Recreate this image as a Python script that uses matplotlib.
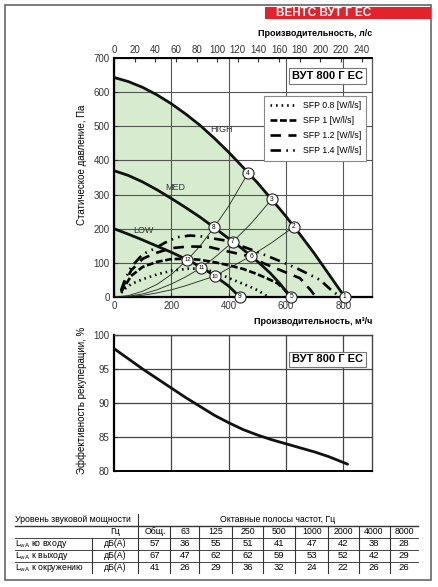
import matplotlib
matplotlib.use('Agg')
import matplotlib.pyplot as plt
from matplotlib.patches import Rectangle

plt.rcParams['font.family'] = ['Liberation Sans', 'DejaVu Sans']
plt.rcParams['mathtext.fontset'] = 'custom'
plt.rcParams['mathtext.rm'] = 'Liberation Sans'

W, H = 439, 587

# fan curves, m3/h -> Pa
high_q = [0, 50, 100, 150, 200, 250, 300, 350, 400, 450, 500, 550, 600, 650, 700, 750, 805]
high_p = [643, 631, 614, 592, 566, 536, 503, 465, 424, 380, 335, 286, 236, 182, 126, 66, 0]
med_q = [0, 50, 100, 150, 203, 250, 300, 349, 380, 415, 448, 478, 510, 545, 580, 615]
med_p = [370, 356, 337, 314, 287, 262, 234, 204, 184, 162, 141, 120, 97, 70, 38, 0]
low_q = [0, 50, 100, 150, 200, 256, 305, 351, 400, 439]
low_p = [200, 184, 167, 149, 131, 109, 87, 62, 32, 0]

# system curves through the numbered points
sys_a_q = [0, 50, 100, 150, 200, 256, 300, 349, 400, 467]
sys_a_p = [0, 4, 17, 37, 66, 109, 149, 204, 266, 362]
sys_b_q = [0, 50, 100, 150, 200, 250, 305, 350, 415, 480, 550]
sys_b_p = [0, 2, 9, 21, 38, 59, 86, 115, 162, 217, 286]
sys_c_q = [0, 50, 100, 150, 200, 250, 300, 351, 400, 478, 550, 628]
sys_c_p = [0, 1, 5, 12, 21, 33, 47, 61, 84, 120, 159, 206]

# SFP curves
sfp08_q = [25, 40, 60, 100, 150, 200, 260, 300, 350, 405, 440, 475, 500, 535]
sfp08_p = [12, 25, 38, 52, 66, 77, 83, 83, 74, 54, 42, 30, 20, 3]
sfp10_q = [25, 40, 60, 100, 150, 200, 250, 300, 356, 400, 451, 490, 533, 570, 591, 615]
sfp10_p = [15, 35, 62, 88, 103, 111, 112, 109, 101, 93, 82, 70, 55, 40, 25, 5]
sfp12_q = [25, 40, 60, 100, 143, 200, 260, 330, 405, 478, 521, 579, 649, 684, 700]
sfp12_p = [18, 45, 78, 112, 128, 143, 148, 147, 132, 118, 99, 79, 55, 22, 5]
sfp14_q = [25, 40, 60, 100, 137, 180, 219, 265, 300, 391, 475, 556, 638, 719, 754, 785]
sfp14_p = [20, 55, 88, 125, 140, 160, 175, 180, 178, 165, 140, 113, 84, 50, 23, 3]

pt_num = [1, 2, 3, 4, 5, 6, 7, 8, 9, 10, 11, 12]
pt_q = [805, 628, 550, 467, 618, 478, 415, 349, 439, 351, 305, 256]
pt_p = [0, 206, 286, 362, 0, 120, 162, 204, 0, 61, 86, 109]

# recuperation efficiency
eff_q = [0, 50, 100, 150, 200, 250, 300, 350, 400, 450, 500, 550, 600, 650, 700, 750, 815]
eff_v = [98.0, 96.5, 95.0, 93.6, 92.2, 90.8, 89.5, 88.2, 87.1, 86.1, 85.3, 84.6, 84.0, 83.4, 82.8, 82.1, 81.0]

# sound table
bands = ['Общ.', '63', '125', '250', '500', '1000', '2000', '4000', '8000']
row_names = ['ко входу', 'к выходу', 'к окружению']
lwa_in = [57, 36, 55, 51, 41, 47, 42, 38, 28]
lwa_out = [67, 47, 62, 62, 59, 53, 52, 42, 29]
lwa_env = [41, 26, 29, 36, 32, 24, 22, 26, 26]


def box(l, t, r, b):
    return [l / W, 1 - b / H, (r - l) / W, (b - t) / H]


fig = plt.figure(figsize=(W / 100, H / 100), dpi=100)

# overlay for frame, header and table
ov = fig.add_axes([0, 0, 1, 1], zorder=-5)
ov.set_xlim(0, W)
ov.set_ylim(H, 0)
ov.axis('off')
ov.add_patch(Rectangle((5, 5), 426, 575, fill=False, ec='#666666', lw=1.2))
ov.add_patch(Rectangle((265, 7), 166, 11.5, fc='#e3222b', ec='none'))
ov.text(276, 13, 'ВЕНТС ВУТ Г ЕС', color='white', fontsize=8.5, fontweight='bold',
        ha='left', va='center')
ov.text(372, 33, 'Производительность, л/с', fontsize=6.5, fontweight='bold', ha='right', va='center')
ov.text(372, 321, 'Производительность, м³/ч', fontsize=6.5, fontweight='bold', ha='right', va='center')
ov.text(82, 165, 'Статическое давление, Па', fontsize=7, rotation=90, ha='center', va='center')
ov.text(82, 400, 'Эффективность рекуперации, %', fontsize=7, rotation=90, ha='center', va='center')

# table
col_x = [155, 185, 216, 248, 279, 312, 343, 374, 404]
seps = [138, 170, 199, 232, 263, 295, 328, 359, 390]
row_y = [544, 556, 568]
ov.text(15, 520, 'Уровень звуковой мощности', fontsize=6.3, va='center')
ov.text(278, 520, 'Октавные полосы частот, Гц', fontsize=6.3, ha='center', va='center')
ov.text(120, 532, 'Гц', fontsize=6.3, ha='right', va='center')
for x, b in zip(col_x, bands):
    ov.text(x, 532, b, fontsize=6.3, ha='center', va='center')
for y, name, vals in zip(row_y, row_names, [lwa_in, lwa_out, lwa_env]):
    ov.text(15, y, r'L$_{\mathrm{wA}}$ ' + name, fontsize=6.3, va='center')
    ov.text(115, y, 'дБ(А)', fontsize=6.3, ha='center', va='center')
    for x, v in zip(col_x, vals):
        ov.text(x, y, str(v), fontsize=6.8, ha='center', va='center')
ov.plot([15, 418], [525.5, 525.5], color='#333333', lw=1.0)
for y in [538, 550, 561.5]:
    ov.plot([15, 418], [y, y], color='#444444', lw=0.7)
ov.plot([138, 138], [514, 573], color='#333333', lw=0.8)
ov.plot([92, 92], [538, 573], color='#333333', lw=0.8)
for x in seps[1:]:
    ov.plot([x, x], [527, 573], color='#333333', lw=0.8)

# pressure chart
ax = fig.add_axes(box(114, 58, 372, 297))
ax.fill_between(high_q, high_p, 0, color='#d7ebcf', lw=0, zorder=0)
ax.set_xlim(0, 900)
ax.set_ylim(0, 700)
ax.set_xticks([0, 200, 400, 600, 800])
ax.set_yticks(range(0, 701, 100))
ax.grid(True, color='#555555', lw=0.8, zorder=1)
ax.set_axisbelow(True)
ax.tick_params(labelsize=7, direction='in', length=3, colors='#333333', pad=3)
for s in ax.spines.values():
    s.set_color('#555555')
    s.set_linewidth(0.9)
ax.spines['left'].set_color('black')
ax.spines['left'].set_linewidth(1.6)
ax.spines['bottom'].set_color('black')
ax.spines['bottom'].set_linewidth(1.6)
ax.spines['top'].set_color('black')
ax.spines['top'].set_linewidth(1.4)

for q, p in [(sys_a_q, sys_a_p), (sys_b_q, sys_b_p), (sys_c_q, sys_c_p)]:
    ax.plot(q, p, color='#222222', lw=0.6, zorder=3)

sfp_lines = [
    (sfp08_q, sfp08_p, (0, (0.6, 1.5)), 'SFP 0.8 [W/l/s]'),
    (sfp10_q, sfp10_p, (0, (2.6, 1.0)), 'SFP 1 [W/l/s]'),
    (sfp12_q, sfp12_p, (0, (4.0, 2.8)), 'SFP 1.2 [W/l/s]'),
    (sfp14_q, sfp14_p, (0, (4.0, 2.0, 0.6, 2.0, 0.6, 2.0)), 'SFP 1.4 [W/l/s]'),
]
for q, p, ls, lab in sfp_lines:
    ax.plot(q, p, color='black', lw=1.9, ls=ls, label=lab, zorder=4,
            dash_capstyle='butt', solid_capstyle='round')

for q, p in [(high_q, high_p), (med_q, med_p), (low_q, low_p)]:
    ax.plot(q, p, color='#111111', lw=2.0, zorder=5, solid_capstyle='round',
            solid_joinstyle='round')
ax.text(335, 490, 'HIGH', fontsize=6.5, color='#333333', va='center')
ax.text(178, 320, 'MED', fontsize=6.5, color='#333333', va='center')
ax.text(66, 196, 'LOW', fontsize=6.5, color='#333333', va='center')

ax.plot(pt_q, pt_p, 'o', ms=8, mfc='white', mec='#222222', mew=0.8, zorder=6, clip_on=False)
for n, q, p in zip(pt_num, pt_q, pt_p):
    ax.text(q, p, str(n), fontsize=4.8 if n < 10 else 4.2, ha='center', va='center',
            zorder=7, clip_on=False)

ax.text(0.965, 0.925, 'ВУТ 800 Г ЕС', transform=ax.transAxes, fontsize=8, fontweight='bold',
        ha='right', va='center', zorder=8,
        bbox=dict(boxstyle='square,pad=0.25', fc='white', ec='#777777', lw=0.8))
leg = ax.legend(loc='upper right', bbox_to_anchor=(0.995, 0.86), fontsize=6.3, frameon=True,
                fancybox=False, edgecolor='#888888', handlelength=3.0, handletextpad=0.8,
                labelspacing=0.7, borderpad=0.6, framealpha=1)
leg.get_frame().set_linewidth(0.8)
leg.set_zorder(8)

top = ax.secondary_xaxis('top', functions=(lambda x: x / 3.6, lambda x: x * 3.6))
top.set_xticks(range(0, 241, 20))
top.tick_params(labelsize=7, direction='in', length=3, colors='#333333', pad=2)

# efficiency chart
ax2 = fig.add_axes(box(114, 335, 372, 471))
ax2.plot(eff_q, eff_v, color='#111111', lw=2.0, solid_capstyle='round',
         solid_joinstyle='round', zorder=3)
ax2.set_xlim(0, 900)
ax2.set_ylim(80, 100)
ax2.set_xticks([200, 400, 600, 800])
ax2.set_yticks([80, 85, 90, 95, 100])
ax2.grid(True, color='#444444', lw=0.9)
ax2.tick_params(axis='x', length=0, labelbottom=False)
ax2.tick_params(axis='y', labelsize=7, direction='in', length=3, colors='#333333', pad=3)
for s in ax2.spines.values():
    s.set_color('#444444')
    s.set_linewidth(1.0)
ax2.spines['left'].set_color('black')
ax2.spines['left'].set_linewidth(1.6)
ax2.spines['bottom'].set_color('black')
ax2.spines['bottom'].set_linewidth(1.4)
ax2.text(0.965, 0.82, 'ВУТ 800 Г ЕС', transform=ax2.transAxes, fontsize=8, fontweight='bold',
         ha='right', va='center', zorder=8,
         bbox=dict(boxstyle='square,pad=0.25', fc='white', ec='#777777', lw=0.8))

fig.savefig('out.png', dpi=100)
